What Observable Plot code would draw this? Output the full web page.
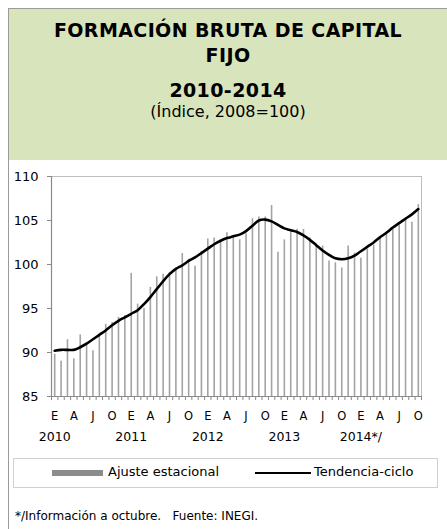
<!DOCTYPE html>
<html>
<head>
<meta charset="utf-8">
<script src="https://cdn.jsdelivr.net/npm/d3@7"></script>
<script src="https://cdn.jsdelivr.net/npm/@observablehq/plot@0.6"></script>
<style>
  html, body { margin: 0; padding: 0; background: #fff; }
  body { width: 447px; height: 529px; position: relative; overflow: hidden; font-family: "DejaVu Sans", sans-serif; color: #000; }
  #frame { position: absolute; left: 8px; top: 8px; width: 439px; height: 521px; border-left: 1px solid #9a9a9a; border-top: 1px solid #9a9a9a; box-sizing: border-box; }
  #titlebox { position: absolute; left: 9px; top: 9px; width: 438px; height: 151px; background: #d8e4bc; }
  .t { position: absolute; left: 9px; width: 438px; text-align: center; white-space: nowrap; }
  .tb { font-weight: 700; font-size: 19px; letter-spacing: 0.4px; }
  #chart { position: absolute; left: 0; top: 165px; }
  #legend { position: absolute; left: 13px; top: 458px; width: 425px; height: 30px; border: 1px solid #d0d0d0; box-sizing: border-box; }
  .lg { position: absolute; font-size: 13px; top: 5px; white-space: nowrap; }
  #foot { position: absolute; left: 15px; top: 509px; font-size: 12px; white-space: nowrap; }
</style>
</head>
<body>
<div id="titlebox"></div>
<div id="frame"></div>
<div class="t tb" style="top:19px">FORMACIÓN BRUTA DE CAPITAL</div>
<div class="t tb" style="top:44px">FIJO</div>
<div class="t tb" style="top:79px">2010-2014</div>
<div class="t" style="top:102px;font-size:16px">(Índice, 2008=100)</div>
<div id="chart"></div>
<div id="legend">
  <div style="position:absolute;left:38px;top:11px;width:51px;height:6px;background:#8c8c8c"></div>
  <div class="lg" style="left:94px">Ajuste estacional</div>
  <div style="position:absolute;left:241px;top:13px;width:56px;height:2px;background:#000"></div>
  <div class="lg" style="left:300px">Tendencia-ciclo</div>
</div>
<div id="foot">*/Información a octubre.&nbsp;&nbsp; Fuente: INEGI.</div>
<script>
const monthLetters = ["E","F","M","A","M","J","J","A","S","O","N","D"];
const yearLabels = ["2010","2011","2012","2013","2014*/"];
const ajusteEstacional = [
  89.8, 89.0, 91.45, 89.3, 92.0, 90.9, 90.2, 91.9, 93.2, 93.4, 94.0, 94.2,
  99.0, 95.5, 95.0, 97.4, 98.6, 98.9, 99.1, 99.6, 101.25, 100.6, 99.8, 101.5,
  102.9, 103.0, 102.6, 103.6, 103.1, 102.8, 103.5, 105.2, 105.4, 105.4, 106.7, 101.4,
  102.8, 103.7, 104.0, 104.0, 103.0, 102.3, 102.1, 100.4, 100.2, 99.6, 102.1, 101.3,
  100.7, 101.7, 102.2, 103.0, 103.5, 104.1, 104.5, 105.3, 104.8, 106.8
];
const tendenciaCiclo = [
  90.2, 90.3, 90.3, 90.3, 90.6, 91.0, 91.5, 92.0, 92.5, 93.1, 93.6, 94.0,
  94.4, 94.8, 95.5, 96.3, 97.2, 98.1, 98.9, 99.5, 99.9, 100.4, 100.8, 101.3,
  101.8, 102.3, 102.7, 103.0, 103.2, 103.4, 103.8, 104.4, 105.0, 105.1, 104.9, 104.5,
  104.1, 103.9, 103.7, 103.3, 102.8, 102.2, 101.6, 101.1, 100.7, 100.6, 100.7, 101.0,
  101.5, 102.0, 102.5, 103.1, 103.6, 104.2, 104.7, 105.2, 105.7, 106.3
];
const yMin = 85, yMax = 110;
const n = ajusteEstacional.length;
const data = ajusteEstacional.map((v, i) => ({i, v, t: tendenciaCiclo[i]}));

const chart = Plot.plot({
  width: 447,
  height: 285,
  marginLeft: 51,
  marginRight: 26,
  marginTop: 11,
  marginBottom: 54,
  style: {fontFamily: "'DejaVu Sans', sans-serif", color: "#000", background: "transparent"},
  x: {domain: [-0.5, n - 0.5]},
  y: {domain: [yMin, yMax]},
  marks: [
    Plot.ruleY([yMax], {stroke: "#bdbdbd", strokeWidth: 1}),
    Plot.ruleX([n - 0.5], {stroke: "#bdbdbd", strokeWidth: 1}),
    Plot.ruleX(data, {x: "i", y1: yMin, y2: "v", stroke: "#a3a3a3", strokeWidth: 1.6}),
    Plot.line(data, {x: "i", y: "t", stroke: "#000", strokeWidth: 2.6, curve: "catmull-rom"}),
    Plot.ruleX([-0.5], {stroke: "#8a8a8a", strokeWidth: 1.2}),
    Plot.ruleY([yMin], {stroke: "#8a8a8a", strokeWidth: 1.2}),
    Plot.axisY({ticks: d3.range(yMin, yMax + 1, 5), tickSize: 4, tickPadding: 9, stroke: "#8a8a8a", fontSize: 13, label: null}),
    Plot.axisX({ticks: d3.range(-0.5, n, 1), tickSize: 4, tickFormat: () => "", stroke: "#8a8a8a", label: null}),
    Plot.axisX({ticks: d3.range(0, n, 3), tickSize: 0, tickPadding: 15, tickFormat: i => monthLetters[i % 12], fontSize: 11.5, label: null}),
    Plot.axisX({ticks: d3.range(0, n, 12), tickSize: 0, tickPadding: 36, tickFormat: i => yearLabels[i / 12], fontSize: 12.5, label: null})
  ]
});
document.getElementById("chart").appendChild(chart);
</script>
</body>
</html>
